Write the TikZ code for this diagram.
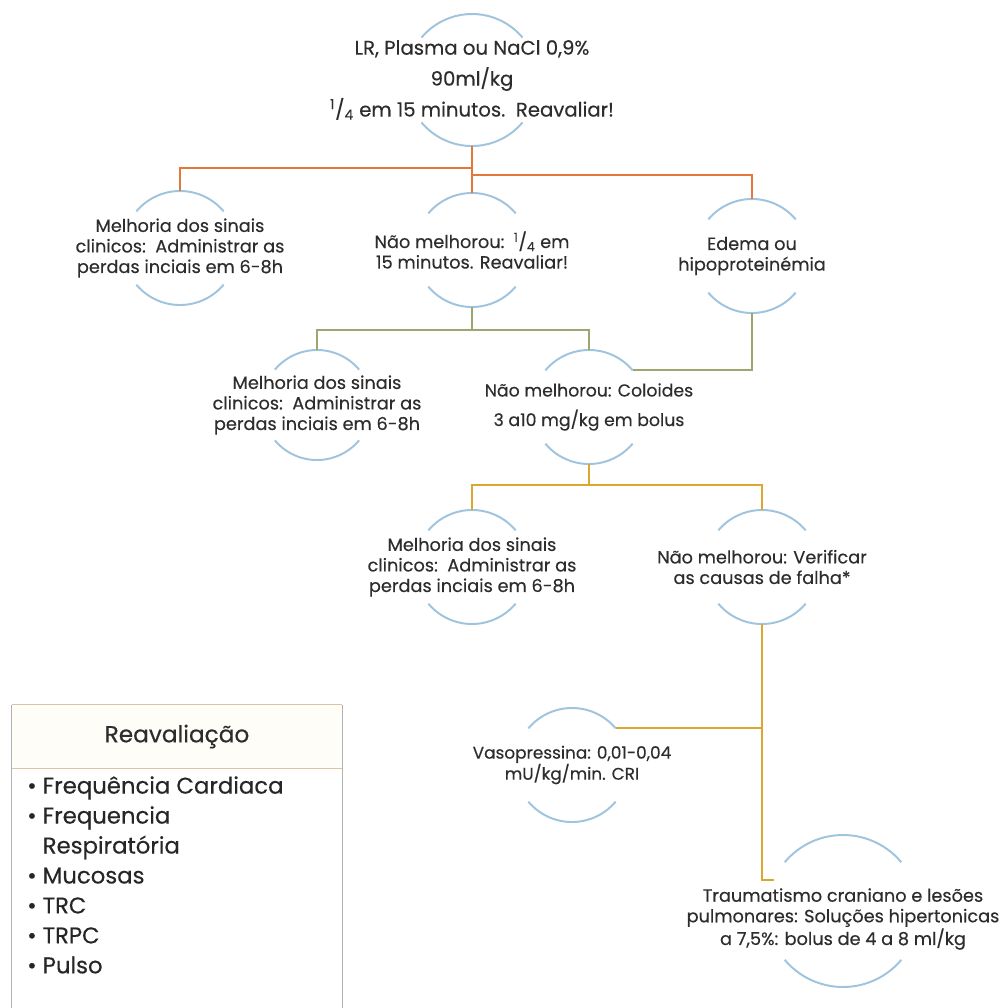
\documentclass[tikz,border=0pt]{standalone}
\usepackage{fontspec}
\setmainfont{Poppins}[FakeBold=0.35]
\usepackage{tikz}

\definecolor{arcblue}{RGB}{160,196,222}
\definecolor{lineorange}{RGB}{226,121,58}
\definecolor{lineolive}{RGB}{160,164,112}
\definecolor{linegold}{RGB}{218,168,50}
\definecolor{txtgray}{RGB}{45,45,45}
\definecolor{headtan}{RGB}{222,194,166}
\definecolor{headfill}{RGB}{255,253,248}

\tikzset{
  bubble/.style={circle, inner sep=0pt, outer sep=0pt, minimum size=#1*0.05cm},
  txt/.style={align=center, text=txtgray, font=\fontsize{12.6}{14.6}\selectfont},
  arcline/.style={draw=arcblue, line width=1.4pt},
  conorange/.style={draw=lineorange, line width=1.5pt},
  conolive/.style={draw=lineolive, line width=1.5pt},
  congold/.style={draw=linegold, line width=1.5pt},
  legendhead/.style={fill=headfill, minimum width=8.25cm, minimum height=1.575cm, inner sep=0pt,
    text=txtgray, font=\fontsize{16.5}{19}\selectfont},
  legendlist/.style={align=left, inner sep=0pt, text=black!85, font=\fontsize{16.2}{21.3}\selectfont}
}

\begin{document}
\begin{tikzpicture}[x=0.025cm, y=0.025cm]
	\useasboundingbox (0,0) rectangle (1004,-1008);
	% decision nodes
	\node[bubble=66, label={[txt, font=\fontsize{14}{22}\selectfont]center:LR, Plasma ou NaCl 0,9\%\\90ml/kg\\\textsuperscript{1}/\textsubscript{4} em 15 minutos.\ \ Reavaliar!}] (top) at (472,-80) {};
	\node[bubble=57, label={[txt]center:Melhoria dos sinais\\clinicos:\ \ Administrar as\\perdas inciais em 6-8h}] (m1) at (180,-248) {};
	\node[bubble=57, label={[txt]center:Não melhorou:\ \ \textsuperscript{1}/\textsubscript{4} em\\15 minutos. Reavaliar!}] (n1) at (472,-250) {};
	\node[bubble=57, label={[txt]center:Edema ou\\hipoproteinémia}] (edema) at (752,-256) {};
	\node[bubble=55, label={[txt]center:Melhoria dos sinais\\clinicos:\ \ Administrar as\\perdas inciais em 6-8h}] (m2) at (317,-405) {};
	\node[bubble=57, label={[txt, font=\fontsize{12.3}{21}\selectfont]center:Não melhorou: Coloides\\3 a10 mg/kg em bolus}] (coloides) at (589,-407) {};
	\node[bubble=57, label={[txt]center:Melhoria dos sinais\\clinicos:\ \ Administrar as\\perdas inciais em 6-8h}] (m3) at (472,-567) {};
	\node[bubble=57, label={[txt]center:Não melhorou: Verificar\\as causas de falha*}] (verif) at (762,-567) {};
	\node[bubble=57, label={[txt, font=\fontsize{12}{15}\selectfont]center:Vasopressina: 0,01-0,04\\mU/kg/min. CRI}] (vaso) at (572,-765) {};
	\node[bubble=76, label={[txt, yshift=-0.2cm]center:Traumatismo craniano e lesões\\pulmonares: Soluções hipertonicas\\a 7,5\%: bolus de 4 a 8 ml/kg}] (trauma) at (843,-911) {};
	\foreach \n/\r in {top/66, m1/57, n1/57, edema/57, m2/55, coloides/57, m3/57, verif/57, vaso/57, trauma/76} {
		\draw[arcline] (\n.40) arc[start angle=40, end angle=140, radius=\r*0.025cm];
		\draw[arcline] (\n.220) arc[start angle=220, end angle=320, radius=\r*0.025cm];
	}
	% connectors
	\draw[conorange] (top.south) -- ++(0,-22) -| (m1.north);
	\draw[conorange] (top.south) -- (n1.north);
	\draw[conorange] (top.south) -- ++(0,-29) -| (edema.north);
	\draw[conolive] (n1.south) -- ++(0,-23) -| (m2.north);
	\draw[conolive] (n1.south) -- ++(0,-23) -| (coloides.north);
	\draw[conolive] (edema.south) |- (coloides.40);
	\draw[congold] (coloides.south) -- ++(0,-21) -| (m3.north);
	\draw[congold] (coloides.south) -- ++(0,-21) -| (verif.north);
	\draw[congold] (verif.south) |- (vaso.40);
	\draw[congold] (verif.south) |- (trauma.156);
	% legend
	\node[legendhead] (reav) at (177,-736.5) {Reavaliação};
	\draw[headtan, line width=1pt] (reav.north west) -- (reav.north east) (reav.south west) -- (reav.south east);
	\draw[gray!60, line width=0.8pt] (reav.north west) -- (reav.north west |- 0,-1008);
	\draw[gray!60, line width=0.8pt] (reav.north east) -- (reav.north east |- 0,-1008);
	\node[legendlist, anchor=north west] (itens) at (27,-776) {\textbullet\ Frequência Cardiaca\\\textbullet\ Frequencia\\\phantom{\textbullet\ }Respiratória\\\textbullet\ Mucosas\\\textbullet\ TRC\\\textbullet\ TRPC\\\textbullet\ Pulso};
\end{tikzpicture}
\end{document}
